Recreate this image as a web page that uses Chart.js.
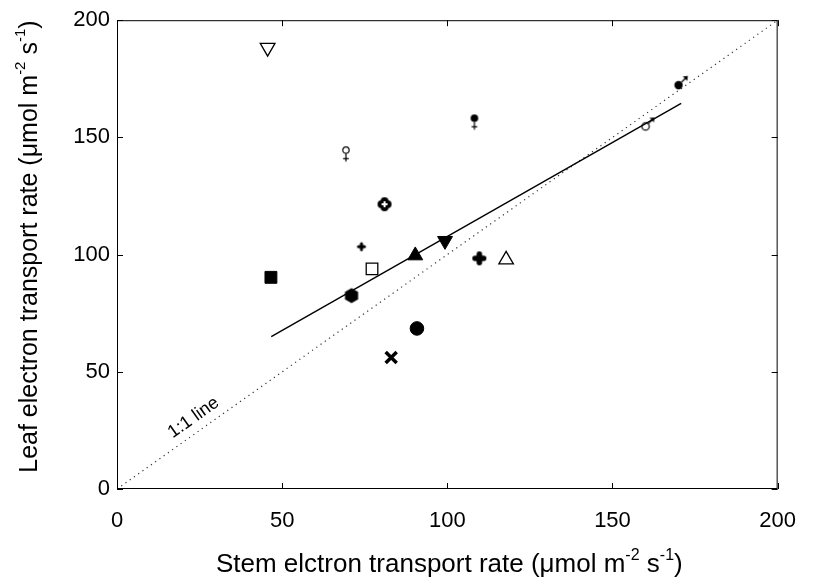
<!DOCTYPE html>
<html>
<head>
<meta charset="utf-8">
<script src="https://cdn.jsdelivr.net/npm/chart.js@4"></script>
<style>
  html, body { margin: 0; padding: 0; background: #fff; }
  #wrap { width: 815px; height: 584px; }
</style>
</head>
<body>
<div id="wrap"><canvas id="myChart"></canvas></div>
<script>
// values
const markerNames = ['openTriDown', 'openFemale', 'filledFemale', 'filledMale', 'openMale',
                     'holeCross', 'smallPlus', 'openSquare', 'filledTriUp', 'filledTriDown',
                     'boldPlus', 'openTriUp', 'filledSquare', 'hexagon', 'filledCircle', 'cross'];
const stemETR = [45.6, 69.3, 108.2, 170.0, 160.0, 81.0, 74.0, 77.2, 90.3, 99.3, 109.7, 117.8, 46.6, 71.0, 90.8, 83.0];
const leafETR = [188.3, 142.8, 156.4, 172.3, 154.7, 121.5, 103.4, 93.9, 99.6, 105.9, 98.4, 97.8, 90.3, 82.5, 68.5, 56.1];
const fitX = [46.7, 170.8];
const fitY = [65.0, 164.5];
const oneToOne = [0, 200];
const tickValues = [0, 50, 100, 150, 200];

const FONT = '"Liberation Sans", Arial, sans-serif';

function makeCanvas(size, draw) {
    const c = document.createElement('canvas');
    c.width = size; c.height = size;
    const g = c.getContext('2d');
    g.fillStyle = '#000'; g.strokeStyle = '#000';
    draw(g, size / 2);
    return c;
}

function female(filled) {
    return makeCanvas(22, (g, c) => {
        const r = filled ? 3.8 : 3.2;
        g.lineWidth = 1.2;
        g.beginPath();
        g.arc(c, c - 4.2, r, 0, Math.PI * 2);
        if (filled) g.fill(); else g.stroke();
        g.beginPath();
        g.moveTo(c, c - 4.2 + r); g.lineTo(c, c + 7.2);
        g.moveTo(c - 2.8, c + 4.3); g.lineTo(c + 2.8, c + 4.3);
        g.stroke();
    });
}

function male(filled) {
    return makeCanvas(28, (g, c) => {
        const r = filled ? 4.2 : 3.7;
        g.lineWidth = 1.2;
        g.beginPath();
        g.arc(c, c, r, 0, Math.PI * 2);
        if (filled) g.fill(); else g.stroke();
        const a = -Math.PI / 4;
        const x0 = c + Math.cos(a) * r, y0 = c + Math.sin(a) * r;
        const x1 = c + Math.cos(a) * (r + 7.5), y1 = c + Math.sin(a) * (r + 7.5);
        g.beginPath(); g.moveTo(x0, y0); g.lineTo(x1, y1); g.stroke();
        g.beginPath();
        g.moveTo(x1 + 1, y1 - 1);
        g.lineTo(x1 - 4, y1 - 0.5);
        g.lineTo(x1 + 0.5, y1 + 4);
        g.closePath(); g.fill();
    });
}

const hexagon = makeCanvas(18, (g, c) => {
    g.beginPath();
    for (let i = 0; i < 6; i++) {
        const a = -Math.PI / 2 + i * Math.PI / 3;
        const px = c + Math.cos(a) * 7.6, py = c + Math.sin(a) * 7.6;
        if (i === 0) g.moveTo(px, py); else g.lineTo(px, py);
    }
    g.closePath(); g.fill();
});

const holeCross = makeCanvas(18, (g, c) => {
    g.lineWidth = 8; g.lineJoin = 'round'; g.lineCap = 'round';
    g.beginPath();
    g.moveTo(c - 3, c); g.lineTo(c + 3, c);
    g.moveTo(c, c - 3); g.lineTo(c, c + 3);
    g.stroke();
    g.fillStyle = '#fff';
    g.fillRect(c - 3, c - 1, 6, 2);
    g.fillRect(c - 1, c - 3, 2, 6);
});

const boldPlus = makeCanvas(18, (g, c) => {
    g.lineWidth = 5.5; g.lineCap = 'round';
    g.beginPath();
    g.moveTo(c - 4.3, c); g.lineTo(c + 4.3, c);
    g.moveTo(c, c - 4.3); g.lineTo(c, c + 4.3);
    g.stroke();
});

const smallPlus = makeCanvas(12, (g, c) => {
    g.lineWidth = 3; g.lineCap = 'round';
    g.beginPath();
    g.moveTo(c - 3, c); g.lineTo(c + 3, c);
    g.moveTo(c, c - 3); g.lineTo(c, c + 3);
    g.stroke();
});

const markerStyles = {
    openTriDown:   { pointStyle: 'triangle', rotation: 180, radius: 8.5, bg: '#fff', bw: 1.3 },
    openFemale:    { pointStyle: female(false), radius: 8 },
    filledFemale:  { pointStyle: female(true), radius: 8 },
    filledMale:    { pointStyle: male(true), radius: 8 },
    openMale:      { pointStyle: male(false), radius: 8 },
    holeCross:     { pointStyle: holeCross, radius: 8 },
    smallPlus:     { pointStyle: smallPlus, radius: 5 },
    openSquare:    { pointStyle: 'rect', radius: 8.2, bg: '#fff', bw: 1.3 },
    filledTriUp:   { pointStyle: 'triangle', radius: 8.6, bg: '#000', bw: 1 },
    filledTriDown: { pointStyle: 'triangle', rotation: 180, radius: 8.6, bg: '#000', bw: 1 },
    boldPlus:      { pointStyle: boldPlus, radius: 8 },
    openTriUp:     { pointStyle: 'triangle', radius: 8.4, bg: '#fff', bw: 1.3 },
    filledSquare:  { pointStyle: 'rect', radius: 8.4, bg: '#000', bw: 1 },
    hexagon:       { pointStyle: hexagon, radius: 8 },
    filledCircle:  { pointStyle: 'circle', radius: 6.8, bg: '#000', bw: 1 },
    cross:         { pointStyle: 'crossRot', radius: 7.8, bg: '#000', bw: 3.5 }
};

const pointSets = markerNames.map((name, i) => {
    const s = markerStyles[name];
    return {
        label: name,
        type: 'scatter',
        data: [{ x: stemETR[i], y: leafETR[i] }],
        pointStyle: s.pointStyle,
        rotation: s.rotation || 0,
        pointRadius: s.radius,
        backgroundColor: s.bg || '#000',
        borderColor: '#000',
        borderWidth: s.bw || 1,
        order: 0
    };
});

// frame, inward ticks, axis titles with superscripts, 1:1 label
const framePlugin = {
    id: 'frame',
    afterDraw(chart) {
        const { ctx, chartArea: a, scales } = chart;
        const xs = scales.x, ys = scales.y;
        ctx.save();
        ctx.strokeStyle = '#000';
        ctx.lineWidth = 1;
        ctx.strokeRect(a.left + 0.5, a.top + 0.5, a.right - a.left - 1, a.bottom - a.top - 1);
        ctx.beginPath();
        tickValues.forEach(v => {
            const px = Math.round(xs.getPixelForValue(v)) + 0.5;
            ctx.moveTo(px, a.bottom); ctx.lineTo(px, a.bottom - 6);
            ctx.moveTo(px, a.top); ctx.lineTo(px, a.top + 6);
            const py = Math.round(ys.getPixelForValue(v)) + 0.5;
            ctx.moveTo(a.left, py); ctx.lineTo(a.left + 6, py);
            ctx.moveTo(a.right, py); ctx.lineTo(a.right - 6, py);
        });
        ctx.stroke();

        // "1:1 line" label along the dotted line
        const lx = xs.getPixelForValue(23.2), ly = ys.getPixelForValue(30.4);
        const ang = Math.atan2(ys.getPixelForValue(200) - ys.getPixelForValue(0),
                               xs.getPixelForValue(200) - xs.getPixelForValue(0));
        ctx.translate(lx, ly);
        ctx.rotate(ang);
        ctx.fillStyle = '#000';
        ctx.font = '18px ' + FONT;
        ctx.textAlign = 'center';
        ctx.textBaseline = 'middle';
        ctx.fillText('1:1 line', 0, 0);
        ctx.restore();

        drawTitle(ctx, 'Stem elctron transport rate (\u03bcmol m', (a.left + a.right) / 2 + 2, 565, 0, 26);
        drawTitle(ctx, 'Leaf electron transport rate (\u03bcmol m', 30, (a.top + a.bottom) / 2 - 8, -Math.PI / 2, 25);
    }
};

function drawTitle(ctx, lead, cx, cy, rot, size) {
    const big = size + 'px ' + FONT, small = Math.round(size * 0.6) + 'px ' + FONT;
    const sup = -size * 0.36;
    const parts = [
        [lead, big, 0], ['-2', small, sup], [' s', big, 0], ['-1', small, sup], [')', big, 0]
    ];
    ctx.save();
    let total = 0;
    parts.forEach(p => { ctx.font = p[1]; total += ctx.measureText(p[0]).width; });
    ctx.translate(cx, cy);
    ctx.rotate(rot);
    ctx.fillStyle = '#000';
    ctx.textBaseline = 'middle';
    ctx.textAlign = 'left';
    let x = -total / 2;
    parts.forEach(p => {
        ctx.font = p[1];
        ctx.fillText(p[0], x, p[2]);
        x += ctx.measureText(p[0]).width;
    });
    ctx.restore();
}

const ctx = document.getElementById('myChart');

new Chart(ctx, {
    data: {
        datasets: [
            ...pointSets,
            {
                label: 'fit',
                type: 'line',
                data: fitX.map((x, i) => ({ x: x, y: fitY[i] })),
                borderColor: '#000',
                borderWidth: 1.4,
                pointRadius: 0,
                fill: false,
                order: 2
            },
            {
                label: '1:1',
                type: 'line',
                data: oneToOne.map(v => ({ x: v, y: v })),
                borderColor: '#333',
                borderWidth: 1.2,
                borderDash: [1.2, 4],
                pointRadius: 0,
                fill: false,
                order: 3
            }
        ]
    },
    options: {
        responsive: true,
        maintainAspectRatio: false,
        animation: false,
        layout: { padding: { left: 0, top: 13, right: 18, bottom: 0 } },
        plugins: {
            legend: { display: false },
            tooltip: { enabled: false }
        },
        scales: {
            x: {
                type: 'linear',
                min: 0, max: 200,
                afterFit: s => { s.height = 95; },
                afterBuildTicks: s => { s.ticks = tickValues.map(v => ({ value: v })); },
                border: { display: false },
                grid: { display: false, drawTicks: false },
                ticks: { color: '#000', padding: 19, font: { family: FONT, size: 22 } }
            },
            y: {
                type: 'linear',
                min: 0, max: 200,
                afterFit: s => { s.width = 117; },
                afterBuildTicks: s => { s.ticks = tickValues.map(v => ({ value: v })); },
                border: { display: false },
                grid: { display: false, drawTicks: false },
                ticks: { color: '#000', padding: 7, font: { family: FONT, size: 22 } }
            }
        }
    },
    plugins: [framePlugin]
});
</script>
</body>
</html>
